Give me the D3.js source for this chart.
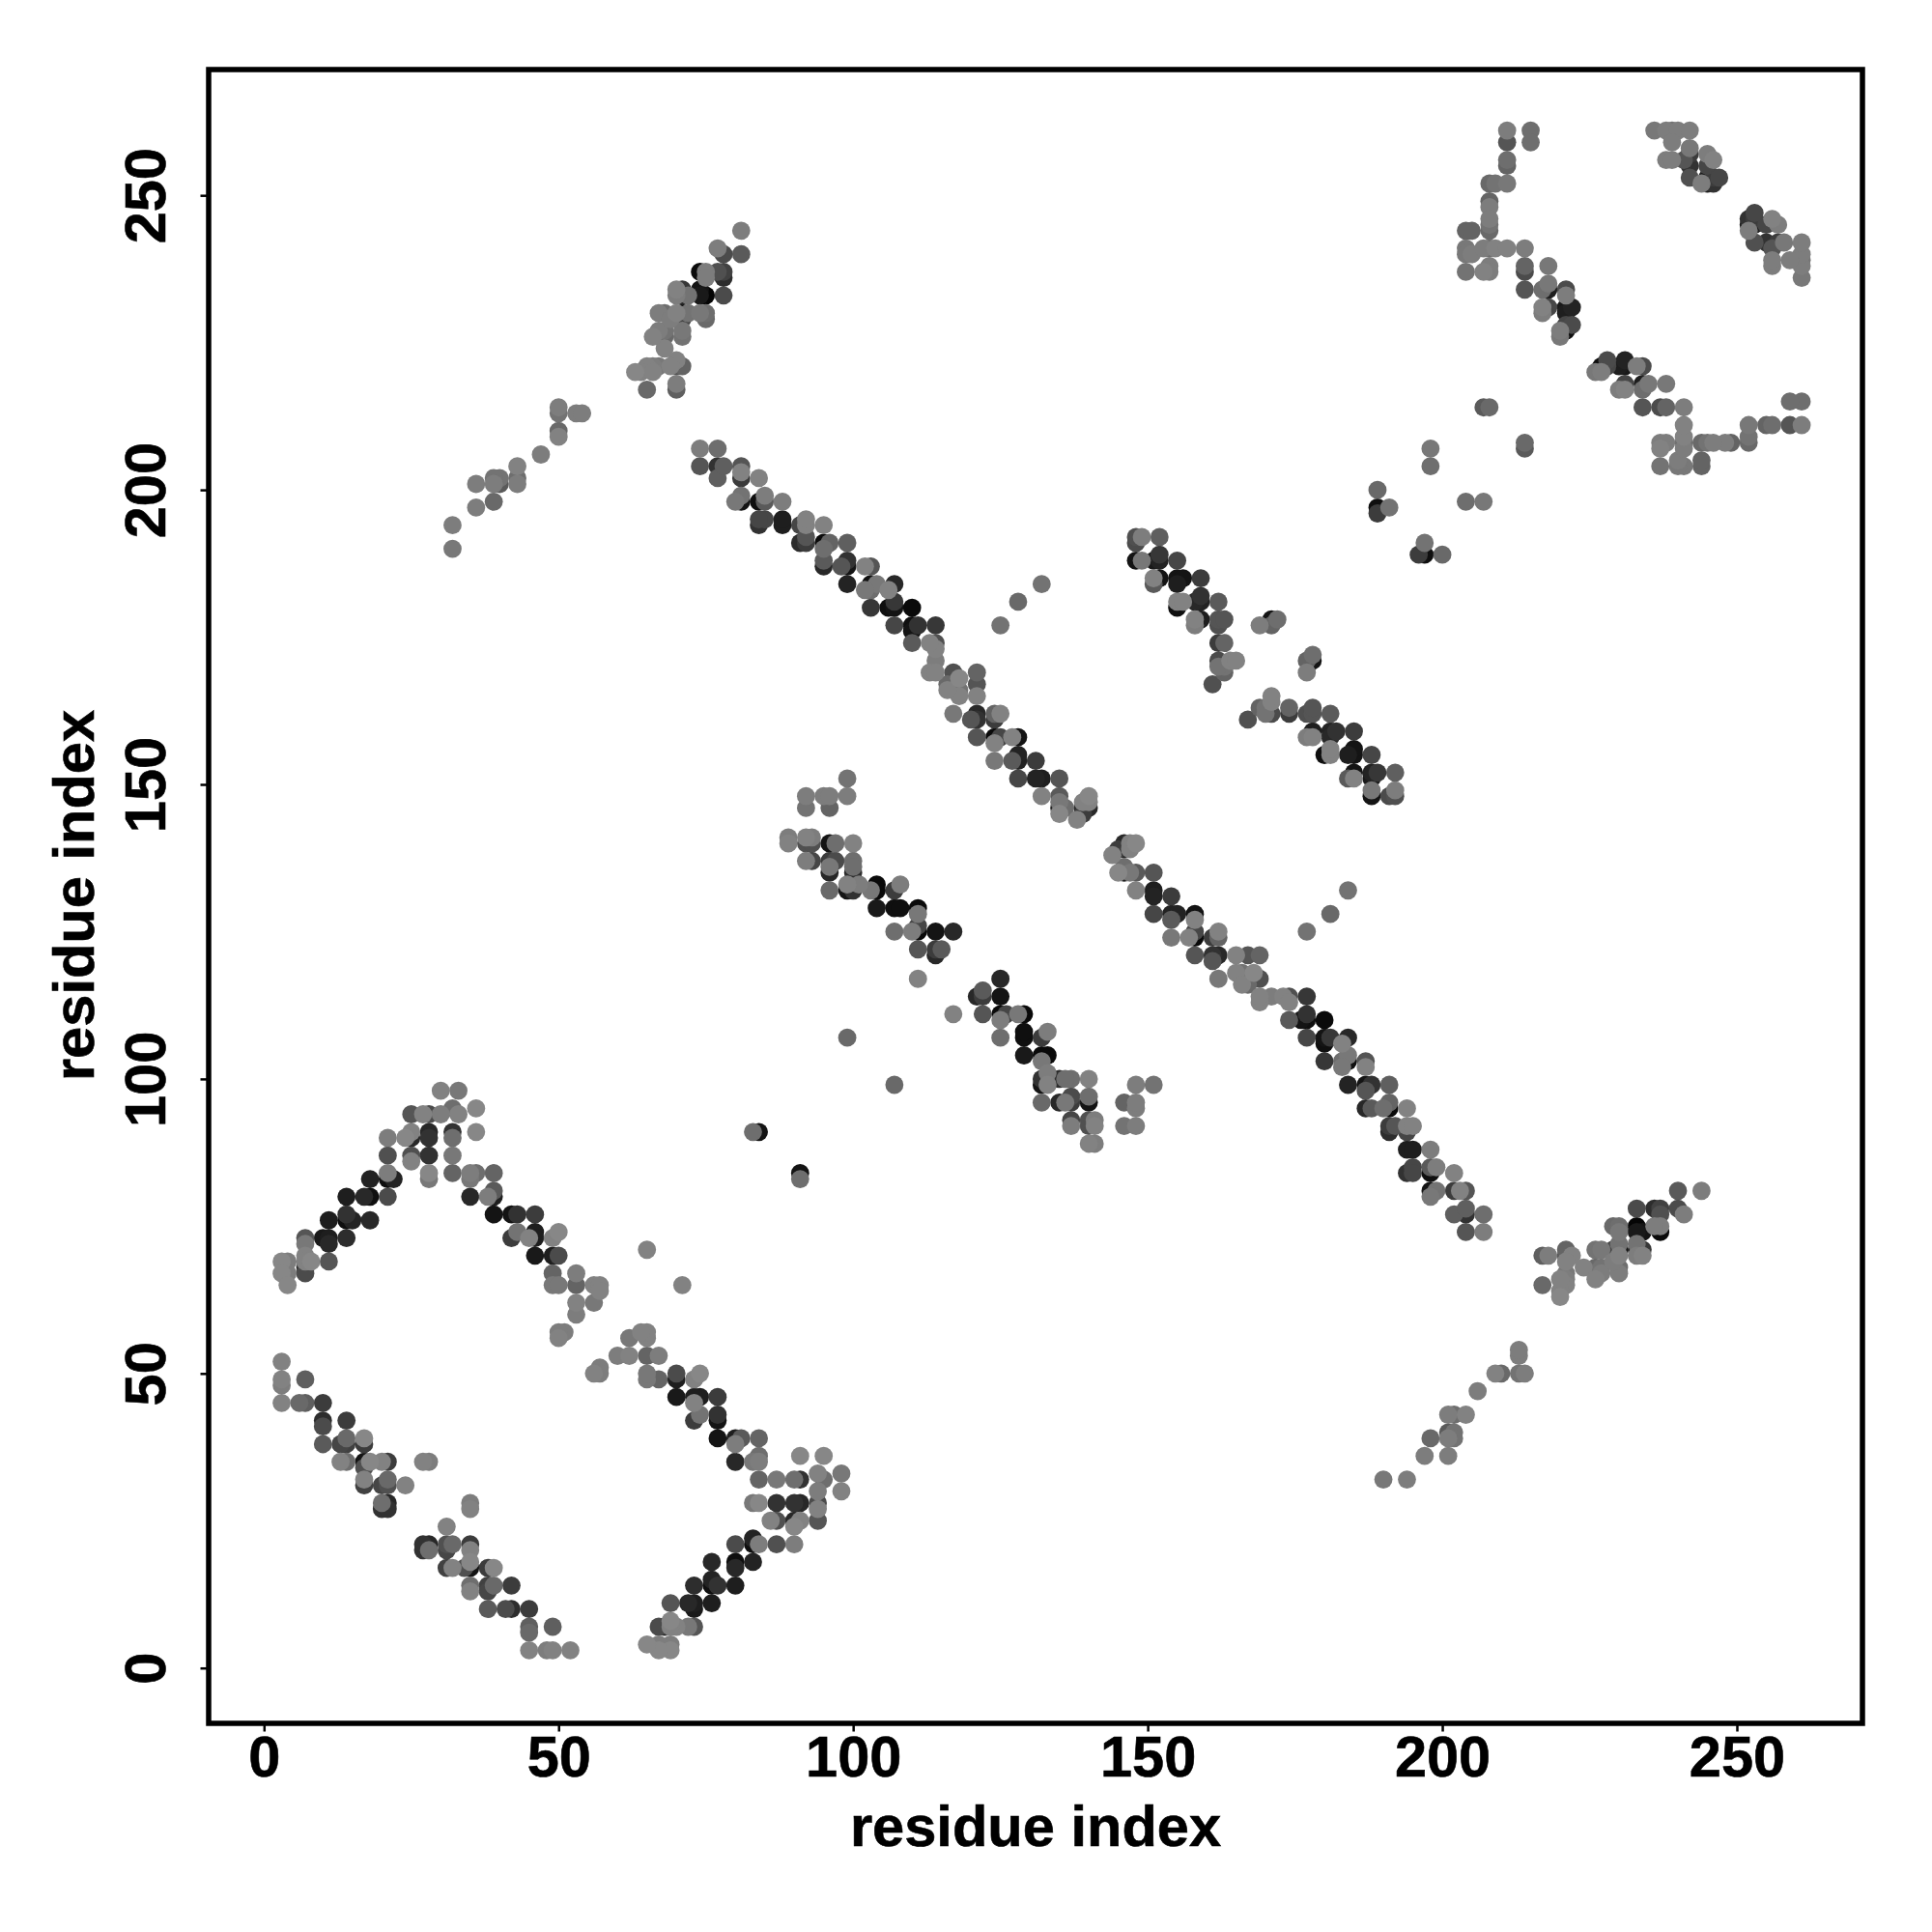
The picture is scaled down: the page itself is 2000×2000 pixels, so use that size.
<!DOCTYPE html>
<html><head><meta charset="utf-8">
<script src="https://cdnjs.cloudflare.com/ajax/libs/d3/7.8.5/d3.min.js"></script>
<style>html,body{margin:0;padding:0;background:#fff}svg{display:block}</style>
</head><body><svg id="c" width="2000" height="2000"></svg>
<script>
// Each contact is [residue a, residue b, shade]; the map is symmetric, so each pair is drawn at (a,b) and (b,a).
const armUpperLeft=[[30,98,130],[33,98,120],[36,95,135],[36,91,135],[32,95,110],[33,94,130],[30,94,125],[27,94,130],[28,94,75],[25,94,85],[25,91,130],[24,90,135],[25,90,40],[28,91,40],[28,90,50],[32,91,50],[32,90,110],[21,90,125],[21,87,80],[25,87,80],[25,86,130],[28,87,50],[32,87,120],[28,84,135],[28,83,120],[32,84,100],[35,84,125],[36,84,110],[35,83,120],[39,84,100],[21,84,125],[21,83,15],[22,83,35],[18,83,35],[14,80,30],[17,80,40],[18,80,15],[21,80,75],[11,76,30],[14,77,50],[14,76,15],[15,76,35],[18,76,40],[35,80,40],[38,80,125],[39,81,90],[39,80,30],[39,77,20],[42,77,20],[43,77,50],[46,77,60],[42,73,60],[43,74,115],[45,73,130],[46,74,30],[46,73,30],[49,73,130],[50,74,135],[46,70,25],[49,70,30],[50,70,75],[49,67,100],[49,65,120],[50,65,120],[7,73,85],[7,72,120],[10,73,25],[11,73,30],[11,72,40],[14,73,45],[11,69,85],[7,70,130],[8,69,135],[7,69,130],[7,68,45],[7,67,75],[3,69,135],[4,69,125],[3,67,135],[4,67,125],[4,65,135]];
const nearDiagonalA=[[65,71,130],[53,67,125],[53,65,100],[53,62,130],[53,60,125],[56,65,130],[57,65,130],[57,64,130],[56,62,120],[51,57,125],[50,57,125],[50,56,130]];
const stripLowerLeft=[[3,52,130],[3,49,130],[3,48,125],[7,49,95],[3,45,130],[6,45,105],[7,45,95],[10,45,60],[10,42,45],[10,41,75],[14,42,60],[10,38,90],[13,38,70],[14,38,65],[14,39,105],[17,39,135],[17,38,60],[13,35,130],[14,35,110],[17,35,20],[18,35,135],[20,35,130],[21,35,60],[17,34,80],[17,32,130],[17,31,65],[20,31,70],[21,32,105],[21,31,80],[24,31,130],[27,35,130],[28,35,125],[20,28,110],[21,28,40],[20,27,50],[21,27,50]];
const mainBand=[[148,140,135],[147,140,130],[146,140,40],[144,138,130],[145,139,60],[146,139,40],[147,139,130],[145,135,135],[146,136,110],[146,135,30],[148,135,90],[147,135,120],[151,135,85],[148,132,130],[151,132,30],[151,131,35],[154,131,60],[151,128,70],[154,128,35],[155,128,35],[154,127,90],[158,128,20],[158,127,130],[154,124,120],[157,124,130],[158,125,70],[158,124,10],[161,124,60],[162,125,130],[162,124,100],[158,121,85],[161,121,50],[162,121,40],[161,120,85],[162,117,120],[165,121,130],[167,121,85],[169,121,100],[165,118,130],[166,118,115],[168,118,135],[169,117,80],[166,116,130],[167,116,105],[169,113,130],[169,114,130],[171,114,125],[173,114,130],[174,114,80],[174,113,130],[177,114,55],[174,110,90],[176,110,20],[177,111,50],[177,110,15],[180,110,10],[177,107,70],[180,107,20],[181,107,55],[180,106,15],[184,107,40],[183,106,130],[180,103,55],[183,103,110],[184,104,120],[184,103,15],[183,102,120],[187,103,85],[187,102,130],[184,99,35],[187,99,20],[188,99,50],[187,98,85],[191,99,95],[187,95,40],[188,95,90],[190,95,110],[191,96,100],[191,95,10],[194,95,130],[191,92,60],[191,91,45],[192,92,85],[194,92,130],[195,92,130],[194,91,70],[194,88,30],[195,88,30],[198,88,125],[194,84,50],[195,85,70],[195,84,70],[198,85,90],[198,84,15],[199,85,125],[202,84,130],[198,81,20],[199,81,115],[198,80,120],[202,81,60],[203,81,130],[204,81,85],[202,77,95],[204,78,95],[204,77,50],[207,77,110],[204,74,85],[207,74,125],[184,132,115],[181,128,105],[177,125,115]];
const innerBand=[[99,151,115],[92,148,125],[95,148,125],[96,148,125],[99,148,125],[92,146,115],[96,146,100],[89,141,125],[89,140,130],[92,141,130],[93,141,125],[92,140,80],[93,140,80],[96,140,20],[97,140,110],[100,140,130],[92,137,125],[93,137,70],[96,137,60],[97,137,75],[96,135,40],[96,136,120],[96,132,105],[100,137,110],[100,135,45],[100,136,110],[99,133,130],[101,133,125],[99,132,20],[100,132,50],[104,133,10],[104,132,10],[103,132,120],[107,132,60],[108,133,125],[104,129,25],[107,129,15],[108,129,15],[111,129,10],[111,128,120],[107,125,110],[110,125,125],[111,126,70],[111,125,10],[114,125,20],[117,125,40],[111,122,85],[114,121,40],[115,122,90],[114,122,60],[111,117,130],[99,107,105],[83,91,110],[84,91,20]];
const upperBand=[[148,192,80],[148,191,75],[149,192,125],[152,192,95],[148,188,20],[149,188,120],[151,188,25],[152,189,55],[152,188,35],[155,188,70],[151,185,130],[151,184,90],[152,185,20],[155,185,20],[156,185,20],[155,184,30],[159,185,60],[155,181,130],[156,181,130],[155,180,15],[158,181,40],[159,182,50],[159,181,35],[162,181,90],[158,178,130],[158,177,125],[159,178,30],[162,178,85],[163,178,85],[162,177,80],[162,174,60],[163,174,100],[162,171,75],[164,171,130],[165,171,130],[163,170,115],[163,169,100],[162,170,115],[161,167,80],[169,177,125],[171,178,20],[172,178,110],[171,177,100]];
const scatteredTop=[[189,200,105],[189,197,15],[189,196,60],[191,197,115],[198,207,120],[198,204,110],[207,214,90],[208,214,105]];
const cornerLeftArc=[[211,261,125],[215,261,110],[211,259,85],[215,259,110],[211,256,110],[211,255,100],[208,252,105],[209,252,115],[211,252,120],[208,249,100],[208,248,125],[208,246,125],[208,245,115],[208,244,105],[204,244,100],[205,244,100],[204,241,120],[205,240,125],[204,240,120],[207,241,125],[208,241,110],[209,241,130],[211,241,130],[214,241,125],[204,237,115],[207,237,130],[208,238,125],[208,237,125],[214,238,100],[214,237,75],[218,238,120],[214,234,85],[217,234,110],[218,234,30],[218,235,120],[221,234,75],[221,233,125],[217,231,130],[218,231,70],[217,230,125],[221,231,25],[222,231,35],[221,230,30],[220,227,125],[220,226,120],[221,227,15],[222,228,75],[221,228,70]];
const cornerRightArc=[[236,261,120],[238,261,125],[239,261,115],[240,261,125],[242,261,125],[239,259,125],[238,256,125],[239,256,125],[241,256,85],[242,258,120],[242,257,60],[242,255,50],[245,257,125],[246,256,130],[245,255,70],[242,253,80],[244,252,125],[245,253,30],[246,253,60],[247,253,70],[246,252,50],[245,252,30]];
const farArm=[[32,190,120],[32,194,125],[36,197,125],[36,201,125],[39,198,105],[39,201,125],[40,202,115],[40,201,90],[39,202,115],[43,201,125],[43,202,110],[43,204,130],[47,206,125],[50,209,130],[50,210,105],[50,213,115],[50,214,125],[53,213,125],[54,213,125],[63,220,135],[65,217,105],[65,221,130],[64,220,130],[66,221,125],[66,220,130],[67,221,120],[70,218,125],[70,217,95],[70,222,130],[69,221,130],[71,221,100],[70,221,85],[68,224,130],[68,226,105],[68,227,115],[66,226,130],[67,227,125],[71,226,115],[71,227,120],[67,230,125],[68,230,110],[69,229,125],[71,230,20],[70,230,130],[72,230,115],[71,229,70],[75,230,110],[75,229,105],[74,230,120],[70,234,130],[71,234,55],[70,233,125],[71,233,40],[72,233,115],[74,234,20],[75,233,5],[74,233,25],[74,237,10],[75,237,125],[75,236,125],[78,237,65],[77,237,80],[78,236,45],[78,233,75],[77,241,125],[78,240,75],[81,240,90],[81,244,125]];
const xTicks=[0,50,100,150,200,250];
const yTicks=[0,50,100,150,200,250];
const axisTitle="residue index";

const svg=d3.select("#c");
const x=d3.scaleLinear().domain([0,250]).range([273.3,1798]);
const y=d3.scaleLinear().domain([0,250]).range([1726.7,202.2]);
const shade=d3.scaleLinear().domain([0,255]).range(["#000","#fff"]);
const contacts=[armUpperLeft,nearDiagonalA,stripLowerLeft,mainBand,innerBand,upperBand,scatteredTop,cornerLeftArc,cornerRightArc,farArm].flat();
const pts=contacts.flatMap(([a,b,s])=>[{x:a,y:b,s},{x:b,y:a,s}]).sort((p,q)=>p.s-q.s);
svg.append("g").selectAll("circle").data(pts).join("circle")
  .attr("cx",d=>x(d.x)).attr("cy",d=>y(d.y)).attr("r",9.4).attr("fill",d=>shade(d.s));
const font='"Liberation Sans",Arial,sans-serif';
const L=216,R=1928,T=72,B=1784;
svg.append("rect").attr("x",L).attr("y",T).attr("width",R-L).attr("height",B-T).attr("fill","none").attr("stroke","#000").attr("stroke-width",5.5);
const xa=svg.append("g").attr("transform",`translate(0,${B})`).call(d3.axisBottom(x).tickValues(xTicks).tickSize(8.5).tickPadding(0));
xa.select(".domain").remove();
xa.selectAll("line").attr("stroke","#000").attr("stroke-width",2.5).attr("y1",2);
xa.selectAll("text").attr("font-family",font).attr("font-weight","bold").attr("font-size",59.5).attr("fill","#000").attr("stroke","#000").attr("stroke-width",0.6).attr("y",0).attr("dy",0).attr("transform","translate(0,55)").attr("text-anchor","middle");
const ya=svg.append("g").attr("transform",`translate(${L},0)`).call(d3.axisLeft(y).tickValues(yTicks).tickSize(8.5).tickPadding(0));
ya.select(".domain").remove();
ya.selectAll("line").attr("stroke","#000").attr("stroke-width",2.5);
ya.selectAll("text").attr("font-family",font).attr("font-weight","bold").attr("font-size",59.5).attr("fill","#000").attr("stroke","#000").attr("stroke-width",0.6).attr("x",0).attr("y",0).attr("dy",0).attr("text-anchor","middle").attr("transform","translate(-45.5,0) rotate(-90)");
const title=(sel)=>sel.attr("text-anchor","middle").attr("font-family",font).attr("font-weight","bold").attr("font-size",59.6).attr("stroke","#000").attr("stroke-width",0.6).text(axisTitle);
svg.append("text").attr("x",1072).attr("y",1911).call(title);
svg.append("text").attr("transform","translate(97,927) rotate(-90)").call(title);
</script></body></html>
